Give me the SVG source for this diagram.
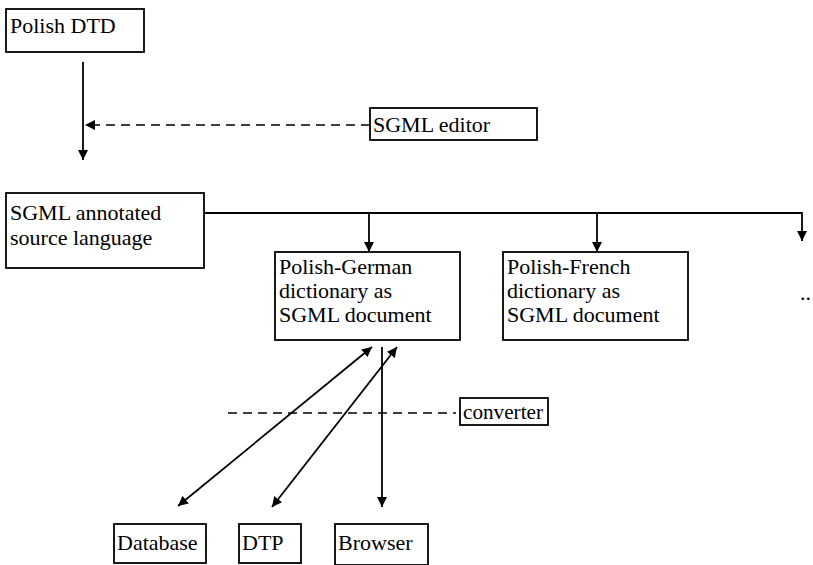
<svg xmlns="http://www.w3.org/2000/svg" width="813" height="565" viewBox="0 0 813 565">
<defs>
<style>
.box{fill:#fff;stroke:#000;stroke-width:1.8}
.t{font-family:"Liberation Serif","Times New Roman",serif;font-size:22px;fill:#000}
.ln{fill:none;stroke:#000;stroke-width:1.8}
.dash{fill:none;stroke:#000;stroke-width:1.5;stroke-dasharray:9,6}
</style>
<marker id="ah" viewBox="0 0 10 10" refX="10" refY="5" markerWidth="10" markerHeight="10" orient="auto-start-reverse" markerUnits="userSpaceOnUse">
<path d="M0,0 L10,5 L0,10 z" fill="#000"/>
</marker>
</defs>
<rect width="813" height="565" fill="#fff"/>
<g id="connectors">
<line class="ln" x1="83" y1="62" x2="83" y2="160" marker-end="url(#ah)"/>
<line class="dash" x1="370" y1="125" x2="85" y2="125" marker-end="url(#ah)"/>
<polyline class="ln" points="204,213 802,213 802,241" marker-end="url(#ah)"/>
<line class="ln" x1="369" y1="213" x2="369" y2="252" marker-end="url(#ah)"/>
<line class="ln" x1="597" y1="213" x2="597" y2="252" marker-end="url(#ah)"/>
<line class="ln" x1="372" y1="347" x2="178" y2="506" marker-start="url(#ah)" marker-end="url(#ah)"/>
<line class="ln" x1="397" y1="347" x2="272" y2="507" marker-start="url(#ah)" marker-end="url(#ah)"/>
<line class="ln" x1="382" y1="347" x2="382" y2="507" marker-end="url(#ah)"/>
<line class="dash" x1="228" y1="413" x2="456" y2="413"/>
</g>
<g id="polish-dtd"><rect class="box" x="6" y="9" width="138" height="43"/><text class="t" x="10" y="33">Polish DTD</text></g>
<g id="sgml-editor"><rect class="box" x="370" y="108" width="167" height="32"/><text class="t" x="373" y="132">SGML editor</text></g>
<g id="sgml-annotated"><rect class="box" x="6" y="193" width="198" height="75"/><text class="t" x="10" y="220">SGML annotated</text><text class="t" x="10" y="245">source language</text></g>
<g id="polish-german"><rect class="box" x="275" y="252" width="185" height="88"/><text class="t" x="279" y="274">Polish-German</text><text class="t" x="279" y="298">dictionary as</text><text class="t" x="279" y="322">SGML document</text></g>
<g id="polish-french"><rect class="box" x="503" y="252" width="185" height="88"/><text class="t" x="507" y="274">Polish-French</text><text class="t" x="507" y="298">dictionary as</text><text class="t" x="507" y="322">SGML document</text></g>
<g id="more"><text class="t" x="800" y="300">..</text></g>
<g id="converter"><rect class="box" x="460" y="398" width="88" height="27"/><text class="t" x="463" y="419" textLength="80" lengthAdjust="spacingAndGlyphs">converter</text></g>
<g id="database"><rect class="box" x="114" y="524" width="92" height="39"/><text class="t" x="117" y="550">Database</text></g>
<g id="dtp"><rect class="box" x="239" y="524" width="62" height="39"/><text class="t" x="242" y="550">DTP</text></g>
<g id="browser"><rect class="box" x="335" y="524" width="93" height="41"/><text class="t" x="338" y="550">Browser</text></g>
</svg>
